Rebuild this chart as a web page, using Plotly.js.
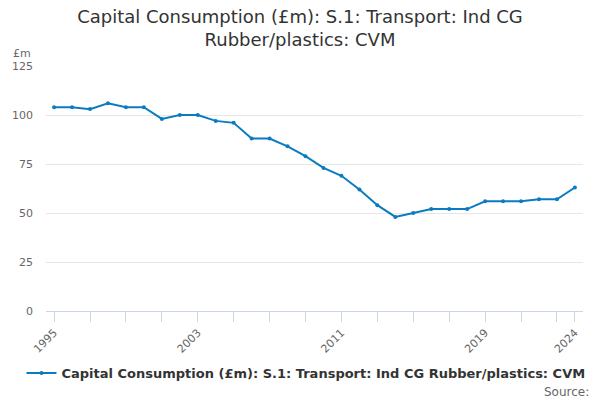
<!DOCTYPE html>
<html>
<head>
<meta charset="utf-8">
<script src="https://cdn.plot.ly/plotly-3.0.1.min.js"></script>
<style>
  html, body { margin: 0; padding: 0; background: #fff; }
  #chart { width: 600px; height: 400px; }
</style>
</head>
<body>
<div id="chart"></div>
<script>
// values
const years = [1995, 1996, 1997, 1998, 1999, 2000, 2001, 2002, 2003, 2004,
               2005, 2006, 2007, 2008, 2009, 2010, 2011, 2012, 2013, 2014,
               2015, 2016, 2017, 2018, 2019, 2020, 2021, 2022, 2023, 2024];
const values = [104, 104, 103, 106, 104, 104, 98, 100, 100, 97,
                96, 88, 88, 84, 79, 73, 69, 62, 54, 48,
                50, 52, 52, 52, 56, 56, 56, 57, 57, 63];
const tickYears = [1995, 1997, 1999, 2001, 2003, 2005, 2007, 2009, 2011,
                   2013, 2015, 2017, 2019, 2021, 2023, 2024];
const labelledYears = [1995, 2003, 2011, 2019, 2024];
const seriesName = 'Capital Consumption (£m): S.1: Transport: Ind CG Rubber/plastics: CVM';

const font = 'DejaVu Sans, Verdana, sans-serif';

const trace = {
    type: 'scatter',
    mode: 'lines+markers',
    x: years,
    y: values,
    name: seriesName,
    line: { color: '#0b7bc1', width: 2 },
    marker: { color: '#0b7bc1', size: 4 },
    hoverinfo: 'x+y',
};

const layout = {
    width: 600,
    height: 400,
    margin: { l: 46, r: 17, t: 66, b: 89 },
    paper_bgcolor: '#fff',
    plot_bgcolor: '#fff',
    font: { family: font, color: '#666', size: 11 },
    title: {
        text: 'Capital Consumption (£m): S.1: Transport: Ind CG<br>Rubber/plastics: CVM',
        font: { family: font, size: 18, color: '#333' },
        x: 0.5,
        xanchor: 'center',
        y: 0.9425,
        yanchor: 'top',
    },
    xaxis: {
        range: [1994.55, 2024.45],
        tickvals: tickYears,
        ticktext: tickYears.map(y => labelledYears.includes(y) ? String(y) : ''),
        tickangle: -45,
        ticks: 'outside',
        ticklen: 10,
        tickcolor: '#ccd6eb',
        showline: true,
        linecolor: '#ccd6eb',
        linewidth: 1,
        showgrid: false,
        zeroline: false,
        fixedrange: true,
        tickfont: { size: 11, color: '#666' },
    },
    yaxis: {
        range: [0, 125],
        tickvals: [0, 25, 50, 75, 100, 125],
        showgrid: true,
        gridcolor: '#e6e6e6',
        zeroline: false,
        showline: false,
        ticks: '',
        ticklabelstandoff: 12,
        fixedrange: true,
        tickfont: { size: 11, color: '#666' },
    },
    showlegend: true,
    legend: {
        orientation: 'h',
        x: 0.51,
        xanchor: 'center',
        xref: 'container',
        y: 0.0675,
        yanchor: 'middle',
        yref: 'container',
        font: { family: font, size: 13, color: '#333', weight: 'bold' },
        itemwidth: 30,
    },
    annotations: [
        {
            text: '£m',
            xref: 'paper', yref: 'paper',
            x: -0.065, y: 1.05,
            xanchor: 'left', yanchor: 'middle',
            showarrow: false,
            font: { family: font, size: 11, color: '#666' },
        },
        {
            text: 'Source:',
            xref: 'paper', yref: 'paper',
            x: 1.015, y: -0.33,
            xanchor: 'right', yanchor: 'middle',
            showarrow: false,
            font: { family: font, size: 12, color: '#666' },
        },
    ],
};

Plotly.newPlot('chart', [trace], layout, { displayModeBar: false, staticPlot: true });
</script>
</body>
</html>
